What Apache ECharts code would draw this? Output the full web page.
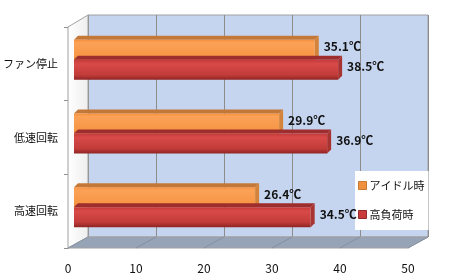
<!DOCTYPE html>
<html><head><meta charset="utf-8">
<script src="https://cdn.jsdelivr.net/npm/echarts@6/dist/echarts.min.js"></script>
<style>html,body{margin:0;padding:0;background:#fff}#c{width:450px;height:280px}</style>
</head><body><div id="c"></div>
<script>
const categories = ['ファン停止', '低速回転', '高速回転'];
const idleValues = [35.1, 29.9, 26.4];
const loadValues = [38.5, 36.9, 34.5];
const seriesNames = ['アイドル時', '高負荷時'];
const xTicks = [0, 10, 20, 30, 40, 50];

const chart = echarts.init(document.getElementById('c'));
const FONT = '"Noto Sans CJK JP", "Noto Sans", sans-serif';
const BW = 20, DX = 4, DY = 4;

function makeRender(top, front, topC, side) {
  return function (params, api) {
    const v = api.value(0), c = api.value(1);
    const s = api.coord([0, c]), e = api.coord([v, c]);
    const y0 = top ? s[1] - BW : s[1];
    const y1 = y0 + BW;
    const x0 = s[0], x1 = e[0];
    return {
      type: 'group',
      children: [
        {type: 'polygon', shape: {points: [[x0, y0], [x0 + DX, y0 - DY], [x1 + DX, y0 - DY], [x1, y0]]}, style: {fill: topC}},
        {type: 'polygon', shape: {points: [[x1, y0], [x1 + DX, y0 - DY], [x1 + DX, y1 - DY], [x1, y1]]}, style: {fill: side}},
        {type: 'rect', shape: {x: x0, y: y0, width: x1 - x0, height: BW}, style: {fill: front}},
        {type: 'text', style: {text: v.toFixed(1) + '℃', x: x1 + DX + 5, y: y0 + BW / 2 - 3, verticalAlign: 'middle', fill: '#111', font: 'bold 12px ' + FONT}}
      ]
    };
  };
}

const orangeFront = new echarts.graphic.LinearGradient(0, 0, 0, 1, [
  {offset: 0, color: '#f58f3c'}, {offset: 0.15, color: '#fba257'}, {offset: 0.8, color: '#f79646'}, {offset: 1, color: '#d97d30'}]);
const redFront = new echarts.graphic.LinearGradient(0, 0, 0, 1, [
  {offset: 0, color: '#c43a3a'}, {offset: 0.2, color: '#d84a48'}, {offset: 0.75, color: '#c23c3a'}, {offset: 1, color: '#8e2524'}]);

const floorLines = [];
for (let i = 0; i <= 5; i++) {
  floorLines.push({type: 'line', z: 2, shape: {x1: 88 + 68 * i, y1: 237, x2: 68 + 68 * i, y2: 248}, style: {stroke: '#8591a3', lineWidth: 1}});
}

chart.setOption({
  animation: false,
  textStyle: {fontFamily: FONT},
  graphic: [
    {type: 'polygon', z: 1, shape: {points: [[88, 237], [428, 237], [408, 248], [68, 248]]}, style: {fill: '#97a3b6', stroke: '#a0a0a0'}},
    {type: 'polygon', z: 1, shape: {points: [[68, 27], [88, 15], [88, 237], [68, 248]]}, style: {fill: new echarts.graphic.LinearGradient(0, 0, 1, 0, [{offset: 0, color: '#ffffff'}, {offset: 1, color: '#eeeeee'}]), stroke: '#a0a0a0'}},
    ...floorLines
  ],
  grid: [
    {left: 88, right: 22, top: 15, bottom: 43, show: true, backgroundColor: '#c6d5ef', borderColor: '#a0a0a0', borderWidth: 1, z: 0},
    {left: 68, right: 42, top: 27, bottom: 32},
    {left: 74, width: 343, top: 23, height: 221}
  ],
  xAxis: [
    {gridIndex: 0, type: 'value', min: 0, max: 50, interval: 10, axisLabel: {show: false}, axisLine: {show: false}, axisTick: {show: false}, splitLine: {lineStyle: {color: '#8c8c8c'}}},
    {gridIndex: 1, type: 'value', min: 0, max: 50, interval: 10, axisLine: {show: false}, axisTick: {show: false}, splitLine: {show: false},
      axisLabel: {margin: 14, color: '#111', fontSize: 12, fontFamily: FONT, formatter: (v) => String(xTicks[Math.round(v / 10)])}},
    {gridIndex: 2, type: 'value', min: 0, max: 50, show: false}
  ],
  yAxis: [
    {gridIndex: 0, type: 'category', data: categories, show: false},
    {gridIndex: 1, type: 'category', data: categories, inverse: true, axisLine: {show: true, lineStyle: {color: '#909090'}}, axisTick: {show: true, length: 4, lineStyle: {color: '#909090'}},
      axisLabel: {margin: 10, color: '#111', fontSize: 11, fontFamily: FONT}},
    {gridIndex: 2, type: 'category', data: categories, inverse: true, show: false}
  ],
  legend: {
    orient: 'vertical', left: 355, top: 171, backgroundColor: '#ffffff', padding: [9, 4, 10, 3],
    itemGap: 18, itemWidth: 8, itemHeight: 8, icon: 'rect',
    textStyle: {fontSize: 11, color: '#111', fontFamily: FONT, padding: [0, 0, 0, -2]},
    data: [{name: seriesNames[0], itemStyle: {color: '#f0913f', borderColor: '#c87a30', borderWidth: 1}},
           {name: seriesNames[1], itemStyle: {color: '#c93c3c', borderColor: '#962a2a', borderWidth: 1}}]
  },
  series: [
    {name: seriesNames[0], type: 'custom', xAxisIndex: 2, yAxisIndex: 2, z: 10, itemStyle: {color: '#f0913f'},
      renderItem: makeRender(true, orangeFront, '#c47838', '#d4843a'),
      data: idleValues.map((v, i) => [v, i])},
    {name: seriesNames[1], type: 'custom', xAxisIndex: 2, yAxisIndex: 2, z: 11, itemStyle: {color: '#c93c3c'},
      renderItem: makeRender(false, redFront, '#9e2e2d', '#a83432'),
      data: loadValues.map((v, i) => [v, i])}
  ]
});
</script></body></html>
